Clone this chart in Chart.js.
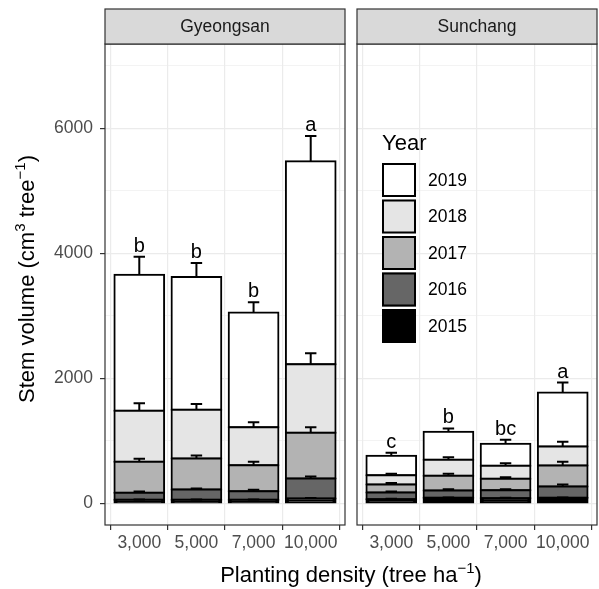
<!DOCTYPE html>
<html>
<head>
<meta charset="utf-8">
<script src="https://cdn.jsdelivr.net/npm/chart.js@4.4.0/dist/chart.umd.min.js"></script>
<style>
  body { margin: 0; background: #fff; }
  #wrap { position: relative; width: 599px; height: 589px; overflow: hidden; font-family: "Liberation Sans", Arial, sans-serif; }
  canvas { position: absolute; top: 0; }
  .ttl { position: absolute; font-size: 22px; line-height: 22px; color: #000; white-space: nowrap; text-align: center; }
  .sup { font-size: 15px; position: relative; top: -9px; }
</style>
</head>
<body>
<div id="wrap">
  <canvas id="gyeongsan" width="351" height="589" style="left:0"></canvas>
  <canvas id="sunchang" width="248" height="589" style="left:351px"></canvas>
  <div class="ttl" style="left:0;width:702px;top:564px">Planting density (tree ha<span class="sup">&minus;1</span>)</div>
  <div class="ttl" style="left:-122px;width:300px;top:267px;transform:rotate(-90deg)">Stem volume (cm<span class="sup">3</span> tree<span class="sup">&minus;1</span>)</div>
</div>
<script>
// categories
const densities = ['3,000', '5,000', '7,000', '10,000'];
const years = ['2015', '2016', '2017', '2018', '2019'];
const yearColors = ['#000000', '#666666', '#b3b3b3', '#e5e5e5', '#ffffff'];

// y axis ticks
const yMajor = [0, 2000, 4000, 6000];
const yMinor = [1000, 3000, 5000, 7000];

// Gyeongsan: yearly stem volume (cm3 tree-1), by density
const gyeongsan2015 = [53, 53, 53, 75];
const gyeongsan2016 = [112, 166, 139, 320];
const gyeongsan2017 = [496, 496, 416, 730];
const gyeongsan2018 = [816, 778, 608, 1099];
const gyeongsan2019 = [2179, 2128, 1835, 3248];
// standard errors
const gyeongsanSe2015 = [6, 6, 6, 8];
const gyeongsanSe2016 = [22, 16, 21, 32];
const gyeongsanSe2017 = [48, 48, 53, 91];
const gyeongsanSe2018 = [123, 96, 80, 176];
const gyeongsanSe2019 = [288, 224, 165, 405];
const gyeongsanLetters = ['b', 'b', 'b', 'a'];

// Sunchang
const sunchang2015 = [64, 85, 80, 85];
const sunchang2016 = [107, 118, 128, 181];
const sunchang2017 = [128, 234, 181, 336];
const sunchang2018 = [149, 256, 208, 304];
const sunchang2019 = [309, 448, 352, 864];
const sunchangSe2015 = [5, 5, 5, 6];
const sunchangSe2016 = [16, 21, 16, 32];
const sunchangSe2017 = [24, 32, 27, 59];
const sunchangSe2018 = [24, 43, 43, 75];
const sunchangSe2019 = [48, 54, 64, 160];
const sunchangLetters = ['c', 'b', 'bc', 'a'];

Chart.defaults.font.family = '"Liberation Sans", Arial, sans-serif';

const panelPlugin = {
    id: 'panel',
    afterDatasetsDraw(chart, args, opts) {
        const ctx = chart.ctx;
        const xs = chart.scales.x, ys = chart.scales.y;
        const cap = (xs.getPixelForValue(1.1) - xs.getPixelForValue(0.9)) / 2;
        const sets = chart.data.datasets;
        ctx.save();
        ctx.strokeStyle = '#000';
        ctx.lineWidth = 2;
        sets.forEach((ds, d) => {
            chart.getDatasetMeta(d).data.forEach((bar, i) => {
                let top = 0;
                for (let k = 0; k <= d; k++) top += sets[k].data[i].y;
                const y0 = ys.getPixelForValue(top);
                const y1 = ys.getPixelForValue(top + opts.errors[d][i]);
                ctx.beginPath();
                ctx.moveTo(bar.x, y0);
                ctx.lineTo(bar.x, y1);
                ctx.moveTo(bar.x - cap, y1);
                ctx.lineTo(bar.x + cap, y1);
                ctx.stroke();
            });
        });
        // significance letters
        const last = sets.length - 1;
        ctx.fillStyle = '#000';
        ctx.font = '20px "Liberation Sans", Arial, sans-serif';
        ctx.textAlign = 'center';
        ctx.textBaseline = 'alphabetic';
        chart.getDatasetMeta(last).data.forEach((bar, i) => {
            let top = 0;
            sets.forEach(ds => { top += ds.data[i].y; });
            const yp = ys.getPixelForValue(top + opts.errors[last][i]);
            ctx.fillText(opts.letters[i], bar.x, yp - 5);
        });
        ctx.restore();
    },
    afterDraw(chart, args, opts) {
        const ctx = chart.ctx;
        const a = chart.chartArea;
        ctx.save();
        // panel border
        ctx.strokeStyle = '#333333';
        ctx.lineWidth = 1.2;
        ctx.strokeRect(a.left, a.top, a.right - a.left, a.bottom - a.top);
        // facet strip
        ctx.fillStyle = '#d9d9d9';
        ctx.fillRect(a.left, 9, a.right - a.left, a.top - 9);
        ctx.strokeRect(a.left, 9, a.right - a.left, a.top - 9);
        ctx.fillStyle = '#1a1a1a';
        ctx.font = '17.5px "Liberation Sans", Arial, sans-serif';
        ctx.textAlign = 'center';
        ctx.textBaseline = 'middle';
        ctx.fillText(opts.title, (a.left + a.right) / 2, (a.top + 9) / 2 + 1);
        // legend
        if (opts.legend) {
            const lx = a.left + 25;
            ctx.fillStyle = '#000';
            ctx.textAlign = 'left';
            ctx.textBaseline = 'alphabetic';
            ctx.font = '22px "Liberation Sans", Arial, sans-serif';
            ctx.fillText('Year', lx, a.top + 106);
            ctx.font = '17.5px "Liberation Sans", Arial, sans-serif';
            ctx.textBaseline = 'middle';
            const sets = chart.data.datasets.slice().reverse();
            sets.forEach((ds, j) => {
                const by = a.top + 119 + j * 36.5;
                ctx.fillStyle = ds.backgroundColor;
                ctx.fillRect(lx, by, 34, 34);
                ctx.strokeStyle = '#000';
                ctx.lineWidth = 2;
                ctx.strokeRect(lx + 1, by + 1, 32, 32);
                ctx.fillStyle = '#000';
                ctx.fillText(ds.label, lx + 46, by + 18);
            });
        }
        ctx.restore();
    }
};

function makePanel(id, title, series, errors, letters, showY, yWidth, rightPad, legend) {
    const datasets = years.map((yr, d) => ({
        label: yr,
        data: series[d].map((v, i) => ({ x: i + 1, y: v })),
        backgroundColor: yearColors[d],
        borderColor: '#000',
        borderWidth: 2,
        borderSkipped: false,
        inflateAmount: 1,
        barPercentage: 0.87,
        categoryPercentage: 1.0
    }));

    return new Chart(document.getElementById(id), {
        type: 'bar',
        data: { datasets: datasets },
        plugins: [panelPlugin],
        options: {
            responsive: false,
            animation: false,
            devicePixelRatio: 1,
            layout: { padding: { top: 44, right: rightPad, bottom: 0, left: 0 } },
            plugins: {
                legend: { display: false },
                tooltip: { enabled: false },
                panel: { title: title, errors: errors, letters: letters, legend: legend }
            },
            scales: {
                x: {
                    type: 'linear',
                    stacked: true,
                    min: 0.4,
                    max: 4.6,
                    bounds: 'data',
                    offset: false,
                    afterBuildTicks: s => { s.ticks = densities.map((c, i) => ({ value: i + 1 })); },
                    afterFit: s => { s.height = 64; },
                    border: { display: false },
                    grid: { color: '#ebebeb', lineWidth: 1.2, tickColor: '#333333', tickLength: 5, tickWidth: 1.2 },
                    ticks: {
                        autoSkip: false,
                        maxRotation: 0,
                        padding: 3,
                        color: '#4d4d4d',
                        font: { size: 17.5 },
                        callback: (v, i) => densities[i]
                    }
                },
                y: {
                    stacked: true,
                    min: -350,
                    max: 7350,
                    bounds: 'data',
                    afterBuildTicks: s => {
                        s.ticks = yMajor.concat(yMinor).sort((p, q) => p - q).map(v => ({ value: v }));
                    },
                    afterFit: s => { s.width = yWidth; },
                    border: { display: false },
                    grid: {
                        color: '#ebebeb',
                        lineWidth: c => yMajor.includes(c.tick.value) ? 1.2 : 0.6,
                        tickColor: c => yMajor.includes(c.tick.value) ? '#333333' : 'rgba(0,0,0,0)',
                        tickWidth: 1.2,
                        tickLength: 5,
                        drawTicks: showY
                    },
                    ticks: {
                        display: showY,
                        autoSkip: false,
                        padding: 7,
                        color: '#4d4d4d',
                        font: { size: 17.5 },
                        callback: v => yMajor.includes(v) ? String(v) : ''
                    }
                }
            }
        }
    });
}

makePanel('gyeongsan', 'Gyeongsan',
    [gyeongsan2015, gyeongsan2016, gyeongsan2017, gyeongsan2018, gyeongsan2019],
    [gyeongsanSe2015, gyeongsanSe2016, gyeongsanSe2017, gyeongsanSe2018, gyeongsanSe2019],
    gyeongsanLetters, true, 105, 6, false);

makePanel('sunchang', 'Sunchang',
    [sunchang2015, sunchang2016, sunchang2017, sunchang2018, sunchang2019],
    [sunchangSe2015, sunchangSe2016, sunchangSe2017, sunchangSe2018, sunchangSe2019],
    sunchangLetters, false, 6, 2, true);
</script>
</body>
</html>
